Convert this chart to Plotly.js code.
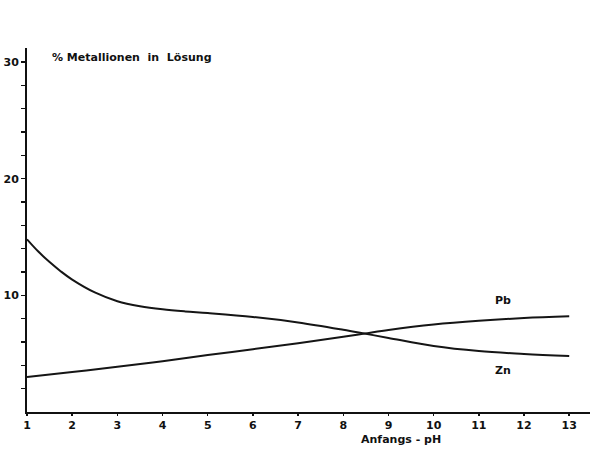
<!DOCTYPE html>
<html>
<head>
<meta charset="utf-8">
<script src="https://cdn.plot.ly/plotly-3.0.1.min.js"></script>
<style>html,body{margin:0;padding:0;background:#fff;}#chart{width:591px;height:458px;}</style>
</head>
<body>
<div id="chart"></div>
<script>
const phZn = [1, 1.25, 1.5, 1.75, 2, 2.5, 3, 3.5, 4, 4.5, 5, 6, 7, 8, 8.5, 9, 10, 11, 12, 13];
const zn   = [14.8, 13.75, 12.85, 12.05, 11.35, 10.25, 9.5, 9.07, 8.8, 8.62, 8.48, 8.15, 7.68, 7.05, 6.7, 6.35, 5.65, 5.22, 4.98, 4.8];
const phPb = [1, 2, 3, 4, 5, 6, 7, 8, 8.5, 9, 10, 11, 12, 13];
const pb   = [3.0, 3.42, 3.87, 4.35, 4.88, 5.38, 5.9, 6.45, 6.74, 7.03, 7.5, 7.82, 8.05, 8.2];
const xTicks = [1,2,3,4,5,6,7,8,9,10,11,12,13];
const yTickVals = [2,4,6,8,10,12,14,16,18,20,22,24,26,28,30];
const yTickText = ['','','','','10','','','','','20','','','','','30'];

const fam = 'DejaVu Sans, sans-serif';
const traces = [
  {x: phZn, y: zn, name: 'Zn', mode: 'lines', line: {color: '#151515', width: 2, shape: 'spline', smoothing: 1}},
  {x: phPb, y: pb, name: 'Pb', mode: 'lines', line: {color: '#151515', width: 2, shape: 'spline', smoothing: 1}}
];
const layout = {
  width: 591, height: 458,
  margin: {l: 27, r: 1, t: 48, b: 46},
  paper_bgcolor: '#fff', plot_bgcolor: '#fff',
  showlegend: false,
  xaxis: {
    range: [1, 13.46], tickvals: xTicks, ticktext: xTicks.map(String),
    ticks: 'outside', ticklen: 2, tickwidth: 1.5, tickcolor: '#111',
    showgrid: false, zeroline: false, showline: true, linecolor: '#111', linewidth: 2,
    tickfont: {family: fam, size: 11, color: '#111', weight: 'bold'}
  },
  yaxis: {
    range: [0, 31.2], tickvals: yTickVals, ticktext: yTickText,
    ticks: 'outside', ticklen: 4, tickwidth: 1.5, tickcolor: '#111',
    showgrid: false, zeroline: false, showline: true, linecolor: '#111', linewidth: 2,
    tickfont: {family: fam, size: 11, color: '#111', weight: 'bold'}
  },
  annotations: [
    {xref: 'paper', yref: 'paper', x: 0.04, y: 0.975, xanchor: 'left', yanchor: 'middle', showarrow: false,
     text: '% Metallionen  in  Lösung', font: {family: fam, size: 11, color: '#111', weight: 'bold'}},
    {xref: 'x', yref: 'paper', x: 9.27, y: -0.075, xanchor: 'center', yanchor: 'middle', showarrow: false,
     text: 'Anfangs - pH', font: {family: fam, size: 11, color: '#111', weight: 'bold'}},
    {x: 11.53, y: 9.57, xref: 'x', yref: 'y', showarrow: false, text: 'Pb',
     font: {family: fam, size: 11, color: '#111', weight: 'bold'}},
    {x: 11.53, y: 3.57, xref: 'x', yref: 'y', showarrow: false, text: 'Zn',
     font: {family: fam, size: 11, color: '#111', weight: 'bold'}}
  ]
};
Plotly.newPlot('chart', traces, layout, {displayModeBar: false, staticPlot: true});
</script>
</body>
</html>
